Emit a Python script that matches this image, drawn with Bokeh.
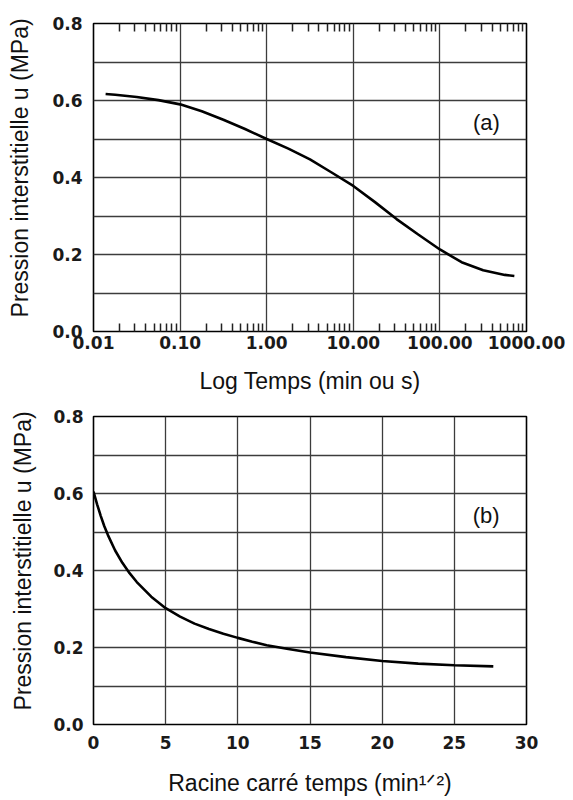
from bokeh.plotting import figure
from bokeh.models import FixedTicker, LogAxis, PrintfTickFormatter, Label, Range1d, CustomJSTickFormatter
from bokeh.layouts import column
from bokeh.embed import file_html
from bokeh.resources import INLINE

# ---- data (a): pore pressure vs log time ----
t_log = [0.0138, 0.0178, 0.0316, 0.0562, 0.1, 0.178, 0.316, 0.562, 1.0, 1.78, 3.16, 5.62,
         10, 17.8, 31.6, 56.2, 100, 178, 316, 562, 724]
u_log = [0.617, 0.615, 0.609, 0.601, 0.590, 0.572, 0.550, 0.526, 0.500, 0.475, 0.447, 0.413,
         0.378, 0.336, 0.292, 0.252, 0.213, 0.180, 0.159, 0.147, 0.144]

# ---- data (b): pore pressure vs sqrt time ----
t_sqrt = [0, 0.25, 0.5, 0.75, 1.0, 1.5, 2.0, 2.5, 3.0, 4.0, 5.0, 6.0, 7.0, 8.0, 9.0, 10,
          11, 12, 13.5, 15, 17.5, 20, 22.5, 25, 27.7]
u_sqrt = [0.605, 0.572, 0.542, 0.515, 0.492, 0.452, 0.420, 0.393, 0.370, 0.332, 0.302, 0.280,
          0.262, 0.248, 0.236, 0.225, 0.215, 0.206, 0.196, 0.187, 0.175, 0.165, 0.158, 0.154, 0.151]

x_decades_a = [0.01, 0.1, 1, 10, 100, 1000]
x_minor_mult = [2, 3, 4, 5, 6, 7, 8, 9]
y_major = [0.0, 0.2, 0.4, 0.6, 0.8]
y_grid = [0.0, 0.1, 0.2, 0.3, 0.4, 0.5, 0.6, 0.7, 0.8]
x_major_b = [0, 5, 10, 15, 20, 25, 30]

ylabel = "\u00a0\u00a0\u00a0Pression interstitielle u (MPa)"
xlabel_a = "Log Temps (min ou s)"
xlabel_b = "Racine carré temps (min\u00b9\u141f\u00b2)"

x_minor_a = [d * k for d in x_decades_a[:-1] for k in x_minor_mult]

TICK_FONT = "DejaVu Sans"
LABEL_FONT = "Liberation Sans"
GRID_COLOR = "#3c3c3c"


def style(p):
    p.outline_line_color = "black"
    p.outline_line_width = 1.6
    p.background_fill_color = "white"
    p.border_fill_color = "white"
    for g in (p.xgrid[0], p.ygrid[0]):
        g.grid_line_color = GRID_COLOR
        g.grid_line_width = 1.3
    p.ygrid[0].ticker = FixedTicker(ticks=y_grid)
    for ax in (p.xaxis[0], p.yaxis[0]):
        ax.axis_line_color = None
        ax.major_tick_out = 0
        ax.major_tick_in = 0
        ax.minor_tick_out = 0
        ax.minor_tick_in = 0
        ax.major_label_text_font = TICK_FONT
        ax.major_label_text_font_style = "bold"
        ax.major_label_text_font_size = "17px"
        ax.major_label_text_color = "#1a1a1a"
        ax.axis_label_text_font = LABEL_FONT
        ax.axis_label_text_font_style = "normal"
        ax.axis_label_text_font_size = "23px"
        ax.axis_label_text_color = "#111111"
    p.yaxis[0].ticker = FixedTicker(ticks=y_major)
    p.yaxis[0].formatter = PrintfTickFormatter(format="%.1f")
    p.yaxis[0].axis_label = ylabel


# ---------------- (a) ----------------
pa = figure(width=573, height=400, x_axis_type="log",
            x_range=Range1d(0.01, 1000), y_range=Range1d(0, 0.8),
            output_backend="svg", toolbar_location=None,
            min_border_left=93, min_border_right=42,
            min_border_top=23, min_border_bottom=69)
style(pa)
pa.xaxis[0].ticker = FixedTicker(ticks=x_decades_a, minor_ticks=x_minor_a)
pa.xgrid[0].ticker = FixedTicker(ticks=x_decades_a)
pa.xaxis[0].formatter = PrintfTickFormatter(format="%.2f")
pa.xaxis[0].minor_tick_in = 8
pa.xaxis[0].minor_tick_line_color = "#222222"
pa.xaxis[0].minor_tick_line_width = 1.5
pa.xaxis[0].major_label_standoff = 4
pa.xaxis[0].axis_label = xlabel_a
pa.xaxis[0].axis_label_standoff = 16
pa.yaxis[0].major_label_standoff = 11
pa.yaxis[0].axis_label_standoff = 16

top = LogAxis(ticker=FixedTicker(ticks=x_decades_a, minor_ticks=x_minor_a),
              formatter=CustomJSTickFormatter(code="return ''"),
              major_label_text_font_size="1px", major_label_text_color=None,
              major_label_standoff=0, axis_line_color=None,
              major_tick_in=0, major_tick_out=0,
              minor_tick_in=8, minor_tick_out=0,
              minor_tick_line_color="#222222", minor_tick_line_width=1.5)
pa.add_layout(top, "above")

pa.line(t_log, u_log, line_color="black", line_width=2.6)
pa.add_layout(Label(x=344, y=0.543, text="(a)", text_align="center", text_baseline="middle",
                    text_font=LABEL_FONT, text_font_size="22px", text_color="#111111"))

# ---------------- (b) ----------------
pb = figure(width=573, height=400,
            x_range=Range1d(0, 30), y_range=Range1d(0, 0.8),
            output_backend="svg", toolbar_location=None,
            min_border_left=88, min_border_right=47,
            min_border_top=16, min_border_bottom=76)
style(pb)
pb.xaxis[0].ticker = FixedTicker(ticks=x_major_b)
pb.xaxis[0].formatter = PrintfTickFormatter(format="%d")
pb.xaxis[0].major_label_standoff = 11
pb.xaxis[0].axis_label = xlabel_b
pb.xaxis[0].axis_label_standoff = 18
pb.yaxis[0].major_label_standoff = 10
pb.yaxis[0].axis_label_standoff = 14

pb.line(t_sqrt, u_sqrt, line_color="black", line_width=2.6)
pb.add_layout(Label(x=27.2, y=0.543, text="(b)", text_align="center", text_baseline="middle",
                    text_font=LABEL_FONT, text_font_size="22px", text_color="#111111"))

layout = column(pa, pb, spacing=0)
open("out.html", "w").write(file_html(layout, INLINE))
